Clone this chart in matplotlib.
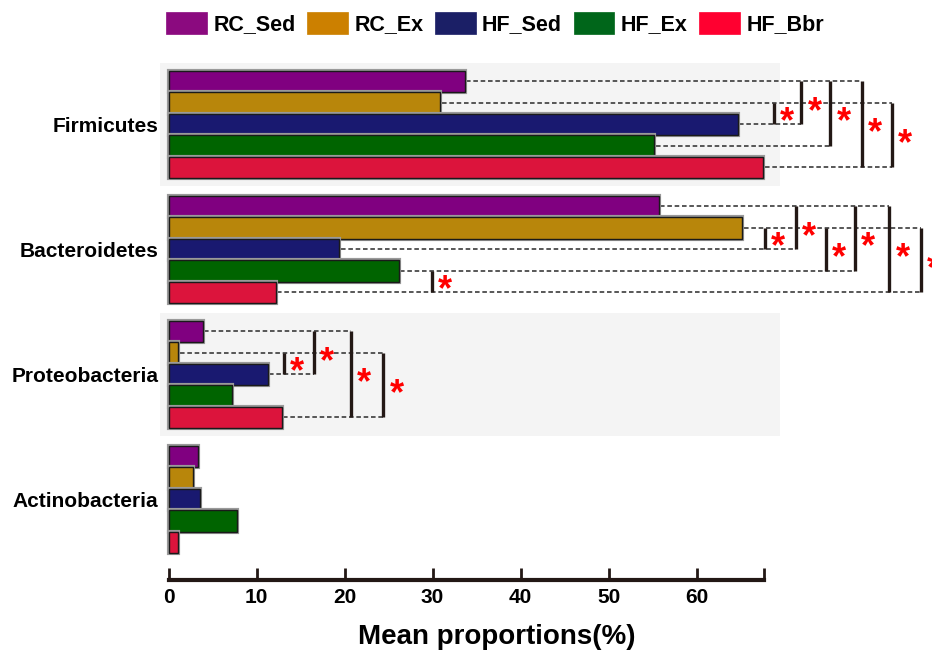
import numpy as np
import matplotlib
matplotlib.use('Agg')
import matplotlib.pyplot as plt
import matplotlib.patheffects as pe
from matplotlib.patches import Patch, Rectangle
from matplotlib.transforms import offset_copy

plt.rcParams['font.family'] = ['Liberation Sans', 'DejaVu Sans']

phyla = ['Firmicutes', 'Bacteroidetes', 'Proteobacteria', 'Actinobacteria']
groups = ['RC_Sed', 'RC_Ex', 'HF_Sed', 'HF_Ex', 'HF_Bbr']
bar_colors = ['#800080', '#B8860B', '#191970', '#006400', '#DC143C']
legend_colors = ['#8B0A7F', '#CC8000', '#1B1F66', '#00661A', '#FF0030']

# mean proportions (%) per group, rows follow phyla
rc_sed = [33.7, 55.7, 3.9, 3.4]
rc_ex = [30.9, 65.2, 1.1, 2.8]
hf_sed = [64.7, 19.4, 11.3, 3.6]
hf_ex = [55.2, 26.2, 7.2, 7.8]
hf_bbr = [67.6, 12.2, 12.9, 1.1]
values = np.array([rc_sed, rc_ex, hf_sed, hf_ex, hf_bbr])

# significance brackets: (phylum index, bar a, bar b, x position of bracket)
brackets = [
    (0, 1, 2, 68.8), (0, 0, 2, 71.9), (0, 0, 3, 75.2), (0, 0, 4, 78.8), (0, 1, 4, 82.2),
    (1, 1, 2, 67.8), (1, 0, 2, 71.3), (1, 1, 3, 74.7), (1, 0, 3, 78.0), (1, 0, 4, 81.9),
    (1, 1, 4, 85.5), (1, 3, 4, 29.9),
    (2, 1, 2, 13.1), (2, 0, 2, 16.5), (2, 0, 4, 20.7), (2, 1, 4, 24.4),
]
shaded = [0, 2]

step = 0.172
dark = '#231815'

fig = plt.figure(figsize=(9.32, 6.53), dpi=100)
ax = fig.add_axes([0.1714, 0.1118, 0.8215, 0.7933])
ax.set_xlim(-1, 86)
ax.set_ylim(3.644, -0.5)

for g in shaded:
    ax.add_patch(Rectangle((-0.97, g - 0.49), 70.5, 0.98, facecolor='#F4F4F4',
                           edgecolor='none', zorder=0))

def bar_y(g, j):
    return g + (j - 2) * step

for j, name in enumerate(groups):
    ys = [bar_y(g, j) for g in range(len(phyla))]
    ax.barh(ys, values[j], height=step, color=bar_colors[j], edgecolor='#1a1a1a',
            linewidth=1.0, zorder=3,
            path_effects=[pe.withStroke(linewidth=3, foreground='#9a9a9a')])

# dashed guides from bar ends to the farthest bracket of that bar
reach = {}
for g, a, b, x in brackets:
    for k in (a, b):
        reach[(g, k)] = max(reach.get((g, k), 0), x)
for (g, k), x in reach.items():
    ax.plot([values[k][g] + 0.15, x], [bar_y(g, k)] * 2, color='#2a2a2a', lw=1.1,
            dashes=(3, 1.8), zorder=2, clip_on=False)

star_fs = 26
star_tr = offset_copy(ax.transData, fig=fig, x=9.5, y=-0.52 * star_fs, units='points')
for g, a, b, x in brackets:
    y1, y2 = bar_y(g, a), bar_y(g, b)
    ax.plot([x, x], [y1, y2], color=dark, lw=2.4, solid_capstyle='butt', zorder=4,
            clip_on=False)
    ax.text(x, (y1 + y2) / 2, '*', transform=star_tr, color='#FF0000', fontsize=star_fs,
            fontweight='bold', ha='center', va='baseline', clip_on=False)

ax.set_yticks(range(len(phyla)))
ax.set_yticklabels(phyla, fontsize=15, fontweight='bold')
ax.tick_params(axis='y', length=0, pad=1)

ax.set_xticks([0, 10, 20, 30, 40, 50, 60, 67.7])
ax.set_xticklabels(['0', '10', '20', '30', '40', '50', '60', ''], fontsize=15,
                   fontweight='bold')
ax.tick_params(axis='x', direction='in', length=9, width=2, color=dark, pad=6)
for s in ['top', 'right', 'left']:
    ax.spines[s].set_visible(False)
ax.spines['bottom'].set_linewidth(3)
ax.spines['bottom'].set_color(dark)
ax.spines['bottom'].set_bounds(0, 67.7)
ax.set_facecolor('none')
ax.set_xlabel('Mean proportions(%)', fontsize=20, fontweight='bold', labelpad=12)
ax.xaxis.set_label_coords(0.4406, -0.085)

handles = [Patch(facecolor=c, edgecolor=c, linewidth=0.5) for c in legend_colors]
fig.legend(handles, groups, loc='center', bbox_to_anchor=(495 / 932, 1 - 23.5 / 653),
           ncol=5, frameon=False, prop={'size': 15.5, 'weight': 'bold'},
           handlelength=1.9, handleheight=1.2, handletextpad=0.3,
           columnspacing=0.53, borderpad=0, borderaxespad=0)

fig.savefig('out.png', dpi=100)
